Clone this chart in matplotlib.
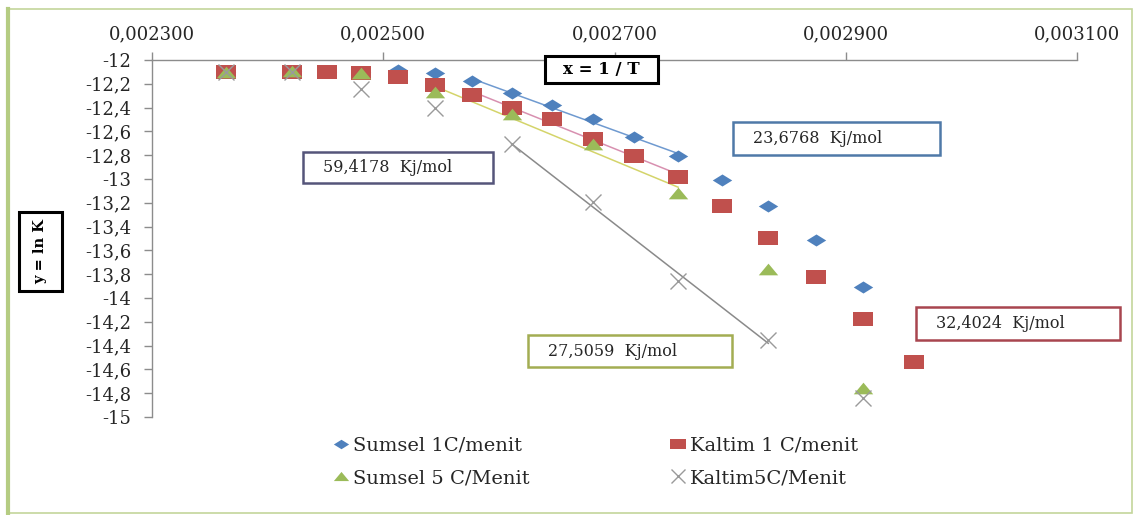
import matplotlib
matplotlib.use("Agg")
import matplotlib.pyplot as plt
import numpy as np
from matplotlib.patches import Rectangle
from matplotlib.lines import Line2D
from matplotlib.ticker import FixedLocator, FuncFormatter

W, H = 1139, 515

# 1/T values (1/K)
x_1c = [0.002364, 0.002421, 0.002451, 0.002481, 0.002513, 0.002545,
        0.002577, 0.002611, 0.002646, 0.002681, 0.002717, 0.002755,
        0.002793, 0.002833, 0.002874, 0.002915, 0.002959]
x_5c = [0.002364, 0.002421, 0.002481, 0.002545, 0.002611, 0.002681,
        0.002755, 0.002833, 0.002915]

# ln K
sumsel_1c = [-12.10, -12.09, -12.10, -12.10, -12.08, -12.11, -12.18, -12.28,
             -12.38, -12.50, -12.65, -12.81, -13.01, -13.23, -13.51, -13.91]
kaltim_1c = [-12.10, -12.10, -12.10, -12.11, -12.14, -12.21, -12.29, -12.40,
             -12.50, -12.66, -12.81, -12.98, -13.23, -13.50, -13.82, -14.18,
             -14.54]
sumsel_5c = [-12.10, -12.09, -12.11, -12.27, -12.45, -12.71, -13.12, -13.76,
             -14.76]
kaltim_5c = [-12.10, -12.10, -12.24, -12.40, -12.71, -13.19, -13.86, -14.35,
             -14.84]

labels = ["Sumsel 1C/menit", "Kaltim 1 C/menit",
          "Sumsel 5 C/Menit", "Kaltim5C/Menit"]
energies = ["23,6768  Kj/mol", "32,4024  Kj/mol",
            "27,5059  Kj/mol", "59,4178  Kj/mol"]

x_ticks = [0.0023, 0.0025, 0.0027, 0.0029, 0.0031]
y_ticks = [-12 - 0.2 * i for i in range(16)]

BLUE = "#4f81bd"
RED = "#c0504d"
GREEN = "#9bbb59"
GREY = "#9a9a9a"
FRAME = "#c3d69b"
SERIF = ["DejaVu Serif"]

plt.rcParams["font.family"] = SERIF

# horizontally stretched marker shapes
DIAMOND = [(-1, 0), (0, 0.62), (1, 0), (0, -0.62), (-1, 0)]
SQUARE = [(-1, -0.68), (1, -0.68), (1, 0.68), (-1, 0.68), (-1, -0.68)]
TRIANGLE = [(-1, -0.6), (1, -0.6), (0, 0.6), (-1, -0.6)]


def comma(v, decimals):
    s = f"{v:.{decimals}f}".replace(".", ",")
    return s


def px_box(fig, x0, y0, x1, y1, edge, lw=1.8):
    rect = Rectangle((x0 / W, 1 - y1 / H), (x1 - x0) / W, (y1 - y0) / H,
                     transform=fig.transFigure, facecolor="white",
                     edgecolor=edge, linewidth=lw, zorder=5)
    fig.add_artist(rect)


fig = plt.figure(figsize=(W / 100, H / 100), dpi=100)
ax = fig.add_axes([152 / W, 1 - 417 / H, (1077 - 152) / W, (417 - 60) / H])

ax.set_xlim(0.0023, 0.0031)
ax.set_ylim(-15, -12)
ax.xaxis.tick_top()
ax.xaxis.set_major_locator(FixedLocator(x_ticks))
ax.yaxis.set_major_locator(FixedLocator(y_ticks))
ax.xaxis.set_major_formatter(FuncFormatter(lambda v, p: comma(v, 6)))


def ylab(v, p):
    s = comma(v, 1)
    return s[:-2] if s.endswith(",0") else s


ax.yaxis.set_major_formatter(FuncFormatter(ylab))
for side in ("right", "bottom"):
    ax.spines[side].set_visible(False)
for side in ("top", "left"):
    ax.spines[side].set_color("#8c8c8c")
    ax.spines[side].set_linewidth(1.0)
ax.tick_params(axis="both", colors="#8c8c8c", labelcolor="#262626",
               labelsize=13, length=6, width=1)
ax.tick_params(axis="y", pad=9)
ax.tick_params(axis="x", pad=6)

# trendlines over the linear parts of each series
x1 = np.array(x_1c)
x5 = np.array(x_5c)
fits = [
    (x1[6:12], np.array(sumsel_1c[6:12]), "#6f9ad0"),
    (x1[6:12], np.array(kaltim_1c[6:12]), "#d890b0"),
    (x5[3:7], np.array(sumsel_5c[3:7]), "#d4d46a"),
    (x5[4:8], np.array(kaltim_5c[4:8]), "#8a8a8a"),
]
for xs, ys, col in fits:
    k, b = np.polyfit(xs, ys, 1)
    ends = np.array([xs[0], xs[-1]])
    ax.plot(ends, k * ends + b, color=col, linewidth=1.1, zorder=2)

ax.plot(x_1c[:len(sumsel_1c)], sumsel_1c, linestyle="none", marker=DIAMOND,
        markersize=14, color=BLUE, markeredgewidth=0, zorder=3)
ax.plot(x_1c, kaltim_1c, linestyle="none", marker=SQUARE, markersize=15,
        color=RED, markeredgewidth=0, zorder=3)
ax.plot(x_5c, sumsel_5c, linestyle="none", marker=TRIANGLE, markersize=14,
        color=GREEN, markeredgewidth=0, zorder=3)
ax.plot(x_5c, kaltim_5c, linestyle="none", marker="x", markersize=12,
        color=GREY, markeredgewidth=1.0, zorder=3)

# activation energy boxes
boxes = [
    (733, 122, 940, 155, "#4f79a8", energies[0]),
    (916, 307, 1120, 340, "#a8454f", energies[1]),
    (528, 335, 732, 367, "#a3ad52", energies[2]),
    (303, 152, 493, 183, "#55557a", energies[3]),
]
for x0, y0, x1b, y1b, edge, txt in boxes:
    px_box(fig, x0, y0, x1b, y1b, edge)
    fig.text((x0 + 20) / W, 1 - (y0 + y1b) / 2 / H, txt, ha="left",
             va="center", fontsize=11.5, color="#262626", zorder=6)

# axis title boxes
px_box(fig, 545, 56, 658, 83, "black", lw=2.2)
fig.text(601.5 / W, 1 - 69.5 / H, "x = 1 / T", ha="center", va="center",
         fontsize=12, fontweight="bold", zorder=6)
px_box(fig, 19, 212, 62, 291, "black", lw=2.2)
fig.text(40.5 / W, 1 - 251.5 / H, "y = ln K", ha="center", va="center",
         rotation=90, fontsize=10.5, fontweight="bold", zorder=6)

handles = [
    Line2D([], [], linestyle="none", marker=DIAMOND, markersize=11,
           color=BLUE, markeredgewidth=0),
    Line2D([], [], linestyle="none", marker=TRIANGLE, markersize=11,
           color=GREEN, markeredgewidth=0),
    Line2D([], [], linestyle="none", marker=SQUARE, markersize=11,
           color=RED, markeredgewidth=0),
    Line2D([], [], linestyle="none", marker="x", markersize=10,
           color=GREY, markeredgewidth=1.0),
]
fig.legend(handles, [labels[0], labels[2], labels[1], labels[3]],
           ncol=2, loc="center", bbox_to_anchor=(596 / W, 1 - 462 / H),
           frameon=False, fontsize=14, handlelength=0.7, handletextpad=0.25,
           columnspacing=7.3, labelspacing=0.75, labelcolor="#262626")

# chart area frame
fig.add_artist(Rectangle((8 / W, 1 - 513 / H), 1124 / W, 504 / H,
                         transform=fig.transFigure, fill=False,
                         edgecolor=FRAME, linewidth=1.2))
fig.add_artist(Line2D([8 / W, 8 / W], [1 - 513 / H, 1 - 9 / H],
                      transform=fig.transFigure, color="#b5cc82",
                      linewidth=3))

fig.savefig("out.png", dpi=100)
